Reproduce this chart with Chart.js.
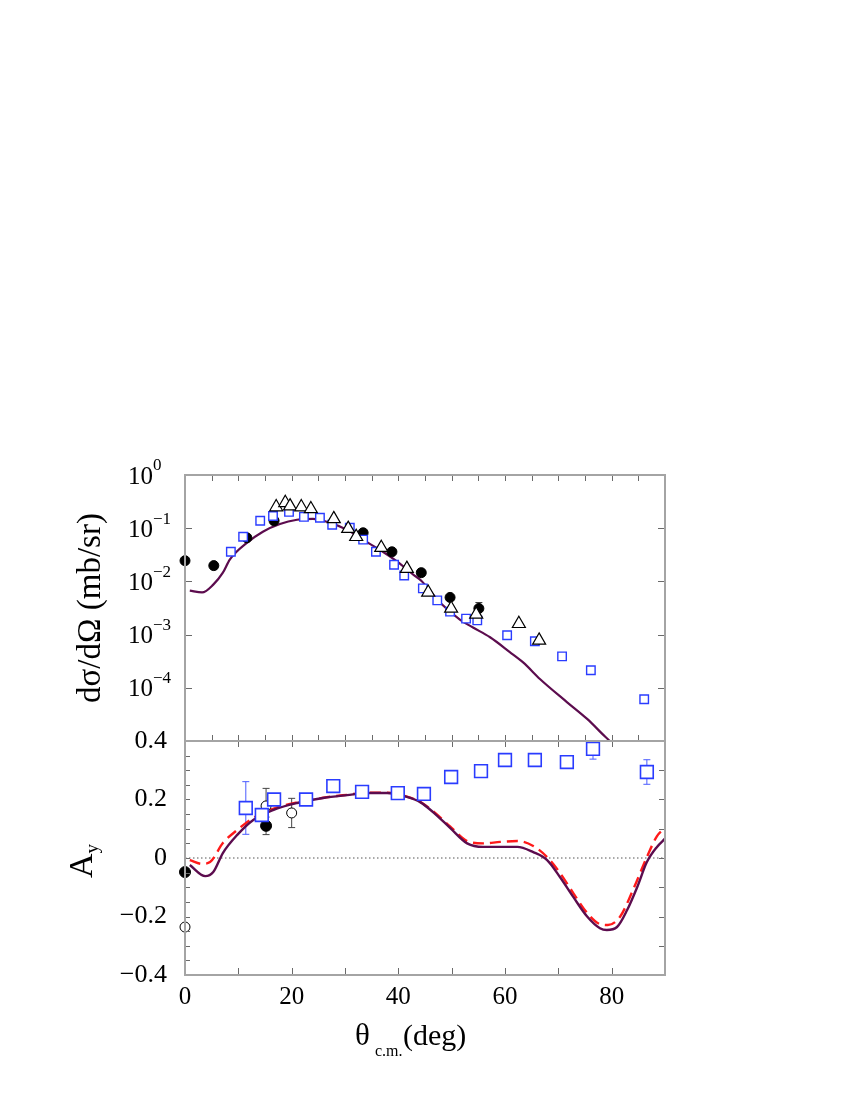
<!DOCTYPE html>
<html>
<head>
<meta charset="utf-8">
<title>Cross section and analyzing power</title>
<script src="https://cdn.jsdelivr.net/npm/chart.js@4.4.1/dist/chart.umd.min.js"></script>
<style>
  body { margin: 0; background: #ffffff; }
  #page { position: relative; width: 850px; height: 1100px; }
  #page canvas { position: absolute; left: 0; }
</style>
</head>
<body>
<div id="page">
  <canvas id="crossChart" width="850" height="361" style="top:400px"></canvas>
  <canvas id="asymChart" width="850" height="400" style="top:700px"></canvas>
</div>
<script>
// ---- top panel: dsigma/dOmega (mb/sr) ----
const calcTopX = [0.9, 3.2, 5.3, 7.1, 8.4, 11.6, 14.6, 17.8, 21, 24, 26.6, 30.4, 33.4, 36.6, 39.8, 42.8, 44.3, 47.8, 51.6, 54, 57.2, 60.9, 63.4, 66.6, 71.6, 75.4, 78.8, 82];
const calcTopY = [0.0067, 0.0062, 0.0087, 0.0146, 0.0257, 0.053, 0.086, 0.12, 0.144, 0.15, 0.132, 0.093, 0.06, 0.039, 0.0235, 0.0134, 0.0103, 0.004, 0.0019, 0.00136, 0.00089, 0.00047, 0.0003, 0.000145, 5.4e-5, 2.6e-5, 1.2e-5, 6e-6];

const squareTopX = [8.6, 10.9, 14.1, 16.5, 19.5, 22.3, 25.3, 27.6, 30.9, 33.4, 35.8, 39.2, 41.1, 44.6, 47.3, 49.7, 52.7, 54.8, 60.4, 65.6, 70.7, 76.1, 86.1];
const squareTopY = [0.036, 0.069, 0.138, 0.17, 0.203, 0.163, 0.157, 0.116, 0.102, 0.061, 0.036, 0.0206, 0.0129, 0.0074, 0.0044, 0.0027, 0.002, 0.00185, 0.00097, 0.00075, 0.00039, 0.000214, 6.1e-5];

const triangleX = [17.1, 18.8, 19.7, 21.8, 23.6, 27.9, 30.6, 32.1, 36.8, 41.6, 45.6, 49.9, 54.6, 62.6, 66.4];
const triangleY = [0.25, 0.30, 0.26, 0.25, 0.23, 0.15, 0.098, 0.069, 0.043, 0.0174, 0.0062, 0.0031, 0.0024, 0.0016, 0.00078];

const dotTopX = [0, 5.4, 11.6, 16.7, 33.4, 38.8, 44.3, 49.7, 55.1];
const dotTopY = [0.0245, 0.0198, 0.066, 0.138, 0.082, 0.036, 0.0146, 0.005, 0.0031];
const dotTopErr = [0, 0, 0, 0, 0, 0, 0, 0, 0.0009];

const logTicks = [1, 0.1, 0.01, 0.001, 0.0001];
const logExponents = ['0', '\u22121', '\u22122', '\u22123', '\u22124'];

// ---- bottom panel: A_y ----
const solidX = [0.9, 3.8, 5.3, 7.1, 9.8, 12.8, 16.5, 21, 25.9, 30.4, 34.1, 37.9, 41.6, 44.1, 46.5, 49.7, 52.9, 55.9, 59.1, 62.3, 65.3, 67.9, 70.3, 72.8, 75.4, 77.8, 79.1, 81, 82.9, 84.8, 86.6, 88.5, 90];
const solidY = [-0.024, -0.062, -0.048, 0.017, 0.079, 0.13, 0.164, 0.188, 0.205, 0.215, 0.222, 0.222, 0.209, 0.191, 0.157, 0.103, 0.05, 0.038, 0.038, 0.038, 0.02, -0.007, -0.065, -0.133, -0.2, -0.24, -0.246, -0.236, -0.178, -0.099, -0.014, 0.038, 0.066];

const dashX = [0.9, 3.2, 4.7, 7.1, 9.8, 12.8, 16.5, 21, 25.9, 30.4, 34.1, 37.9, 41.6, 44.1, 46.5, 49.7, 52.9, 55.9, 59.1, 62.3, 65.3, 67.9, 70.3, 72.8, 75.4, 77.8, 79.3, 81.6, 84, 86.6, 88.5, 90];
const dashY = [-0.007, -0.02, -0.014, 0.051, 0.096, 0.137, 0.168, 0.19, 0.206, 0.216, 0.223, 0.223, 0.21, 0.192, 0.16, 0.108, 0.058, 0.05, 0.055, 0.058, 0.041, 0.003, -0.051, -0.12, -0.188, -0.226, -0.229, -0.2, -0.109, 0.003, 0.075, 0.103];

const squareBotX = [11.4, 14.4, 16.7, 22.7, 27.8, 33.2, 39.9, 44.8, 49.9, 55.5, 60, 65.6, 71.6, 76.5, 86.6];
const squareBotY = [0.171, 0.147, 0.20, 0.20, 0.246, 0.226, 0.222, 0.219, 0.277, 0.297, 0.335, 0.335, 0.328, 0.373, 0.294];
const squareBotErr = [0.09, 0, 0, 0, 0, 0, 0, 0, 0, 0, 0, 0, 0, 0.035, 0.042];

const dotBotX = [0, 15.2];
const dotBotY = [-0.048, 0.11];
const dotBotErr = [0, 0.03];

const ringBotX = [0, 15.2, 20];
const ringBotY = [-0.236, 0.178, 0.154];
const ringBotErr = [0, 0.06, 0.05];

const xTickLabels = [0, 20, 40, 60, 80];
const ayTickLabels = [-0.4, -0.2, 0, 0.2, 0.4];

const PURPLE = '#5c0c4e';
const BLUE = '#2a3cff';
const SERIF = '"Liberation Serif", "DejaVu Serif", serif';

function pts(xs, ys) {
  return xs.map((x, i) => ({ x: x, y: ys[i] }));
}

function range(from, to, step) {
  const out = [];
  for (let v = from; v <= to + 1e-9; v += step) out.push(Math.round(v * 1000) / 1000);
  return out;
}

// frame, inward tick marks, error bars, dotted zero line
function makeFramePlugin(cfg) {
  return {
    id: 'frame',
    beforeDatasetsDraw(chart) {
      const { ctx, chartArea: a, scales } = chart;
      ctx.save();
      ctx.beginPath();
      ctx.rect(a.left, a.top, a.right - a.left, a.bottom - a.top);
      ctx.clip();

      if (cfg.zeroLine) {
        const y0 = scales.y.getPixelForValue(0);
        ctx.strokeStyle = '#555555';
        ctx.lineWidth = 1;
        ctx.setLineDash([1.5, 2.5]);
        ctx.beginPath();
        ctx.moveTo(a.left, y0);
        ctx.lineTo(a.right, y0);
        ctx.stroke();
        ctx.setLineDash([]);
      }

      cfg.errorBars.forEach(set => {
        ctx.strokeStyle = set.color;
        ctx.lineWidth = 1;
        set.x.forEach((xv, i) => {
          const e = set.err[i];
          if (!e) return;
          const px = scales.x.getPixelForValue(xv);
          const hi = scales.y.getPixelForValue(set.y[i] + e);
          const lo = scales.y.getPixelForValue(set.y[i] - e);
          ctx.beginPath();
          ctx.moveTo(px, hi); ctx.lineTo(px, lo);
          ctx.moveTo(px - 3.5, hi); ctx.lineTo(px + 3.5, hi);
          ctx.moveTo(px - 3.5, lo); ctx.lineTo(px + 3.5, lo);
          ctx.stroke();
        });
      });
      ctx.restore();
    },
    afterDatasetsDraw(chart) {
      const { ctx, chartArea: a, scales } = chart;
      ctx.save();
      ctx.strokeStyle = '#6a6a6a';
      ctx.lineWidth = 1;
      cfg.marks.forEach(m => {
        const sc = scales[m.axis];
        m.values.forEach(v => {
          const p = Math.round(sc.getPixelForValue(v)) + 0.5;
          ctx.beginPath();
          if (m.side === 'top') { ctx.moveTo(p, a.top); ctx.lineTo(p, a.top + m.len); }
          if (m.side === 'bottom') { ctx.moveTo(p, a.bottom); ctx.lineTo(p, a.bottom - m.len); }
          if (m.side === 'left') { ctx.moveTo(a.left, p); ctx.lineTo(a.left + m.len, p); }
          if (m.side === 'right') { ctx.moveTo(a.right, p); ctx.lineTo(a.right - m.len, p); }
          ctx.stroke();
        });
      });
      ctx.strokeStyle = '#a4a4a4';
      ctx.lineWidth = 2;
      ctx.strokeRect(a.left, a.top, a.right - a.left, a.bottom - a.top);
      ctx.restore();
    }
  };
}

const crossLabels = {
  id: 'crossLabels',
  afterDraw(chart) {
    const { ctx, scales } = chart;
    ctx.save();
    ctx.fillStyle = '#000000';
    logTicks.forEach((v, i) => {
      const y = scales.y.getPixelForValue(v);
      ctx.font = '25px ' + SERIF;
      ctx.textAlign = 'right';
      ctx.textBaseline = 'middle';
      ctx.fillText('10', 153, y + 2);
      ctx.font = '17px ' + SERIF;
      ctx.textAlign = 'left';
      ctx.fillText(logExponents[i], 153, y - 9);
    });
    ctx.translate(100, 208);
    ctx.rotate(-Math.PI / 2);
    ctx.font = '33px ' + SERIF;
    ctx.textAlign = 'center';
    ctx.textBaseline = 'alphabetic';
    ctx.fillText('d\u03c3/d\u03a9 (mb/sr)', 0, 0);
    ctx.restore();
  }
};

const asymLabels = {
  id: 'asymLabels',
  afterDraw(chart) {
    const { ctx } = chart;
    ctx.save();
    ctx.fillStyle = '#000000';
    ctx.textBaseline = 'alphabetic';
    ctx.textAlign = 'left';
    // x title
    const base = 345;
    ctx.font = '31px ' + SERIF;
    ctx.fillText('\u03b8', 355, base);
    ctx.font = '16px ' + SERIF;
    ctx.fillText('c.m.', 375, base + 11);
    ctx.font = '30px ' + SERIF;
    ctx.fillText('(deg)', 403, base);
    // y title
    ctx.translate(92, 178);
    ctx.rotate(-Math.PI / 2);
    ctx.font = '34px ' + SERIF;
    ctx.fillText('A', 0, 0);
    const w = ctx.measureText('A').width;
    ctx.font = '19px ' + SERIF;
    ctx.fillText('y', w, 6);
    ctx.restore();
  }
};

Chart.defaults.font.family = SERIF;
Chart.defaults.color = '#000000';

const every5 = range(5, 85, 5);
const every10 = range(10, 80, 10);

new Chart(document.getElementById('crossChart'), {
  type: 'scatter',
  data: {
    datasets: [
      {
        label: 'triangles', data: pts(triangleX, triangleY), order: 1, clip: false,
        pointStyle: 'triangle', pointRadius: 7.5, borderColor: '#000000',
        backgroundColor: '#ffffff', borderWidth: 1.2
      },
      {
        label: 'squares', data: pts(squareTopX, squareTopY), order: 2, clip: false,
        pointStyle: 'rect', pointRadius: 6, borderColor: BLUE,
        backgroundColor: '#ffffff', borderWidth: 1.4
      },
      {
        label: 'dots', data: pts(dotTopX, dotTopY), order: 3, clip: false,
        pointStyle: 'circle', pointRadius: 5, borderColor: '#000000',
        backgroundColor: '#000000', borderWidth: 1
      },
      {
        label: 'calc', data: pts(calcTopX, calcTopY), order: 4,
        showLine: true, pointRadius: 0, borderColor: PURPLE, borderWidth: 2.2,
        cubicInterpolationMode: 'monotone'
      }
    ]
  },
  options: {
    responsive: false,
    animation: false,
    events: [],
    layout: { padding: { top: 75, right: 185, bottom: 20, left: 0 } },
    plugins: { legend: { display: false }, tooltip: { enabled: false } },
    scales: {
      x: { type: 'linear', min: 0, max: 90, display: false },
      y: {
        type: 'logarithmic', min: 1e-5, max: 1,
        ticks: { display: false },
        grid: { display: false, drawTicks: false },
        border: { display: false },
        afterFit: (axis) => { axis.width = 185; }
      }
    }
  },
  plugins: [
    makeFramePlugin({
      zeroLine: false,
      errorBars: [{ x: dotTopX, y: dotTopY, err: dotTopErr, color: '#333333' }],
      marks: [
        { axis: 'x', side: 'top', values: every5, len: 6 },
        { axis: 'x', side: 'bottom', values: every5, len: 6 },
        { axis: 'y', side: 'left', values: logTicks.slice(1), len: 7 },
        { axis: 'y', side: 'right', values: logTicks.slice(1), len: 7 }
      ]
    }),
    crossLabels
  ]
});

new Chart(document.getElementById('asymChart'), {
  type: 'scatter',
  data: {
    datasets: [
      {
        label: 'squares', data: pts(squareBotX, squareBotY), order: 1, clip: false,
        pointStyle: 'rect', pointRadius: 9, borderColor: BLUE,
        backgroundColor: '#ffffff', borderWidth: 1.6
      },
      {
        label: 'rings', data: pts(ringBotX, ringBotY), order: 2, clip: false,
        pointStyle: 'circle', pointRadius: 5, borderColor: '#000000',
        backgroundColor: '#ffffff', borderWidth: 1
      },
      {
        label: 'dots', data: pts(dotBotX, dotBotY), order: 3, clip: false,
        pointStyle: 'circle', pointRadius: 5.5, borderColor: '#000000',
        backgroundColor: '#000000', borderWidth: 1
      },
      {
        label: 'dashed', data: pts(dashX, dashY), order: 5,
        showLine: true, pointRadius: 0, borderColor: '#ff1a1a', borderWidth: 2.4,
        borderDash: [11, 6], cubicInterpolationMode: 'monotone'
      },
      {
        label: 'solid', data: pts(solidX, solidY), order: 4,
        showLine: true, pointRadius: 0, borderColor: PURPLE, borderWidth: 2.4,
        cubicInterpolationMode: 'monotone'
      }
    ]
  },
  options: {
    responsive: false,
    animation: false,
    events: [],
    layout: { padding: { top: 41, right: 185, bottom: 0, left: 0 } },
    plugins: { legend: { display: false }, tooltip: { enabled: false } },
    scales: {
      x: {
        type: 'linear', min: 0, max: 90,
        grid: { display: false, drawTicks: false },
        border: { display: false },
        afterBuildTicks: (axis) => { axis.ticks = xTickLabels.map(v => ({ value: v })); },
        ticks: { font: { size: 25 }, padding: 7, maxRotation: 0 },
        afterFit: (axis) => { axis.height = 125; }
      },
      y: {
        type: 'linear', min: -0.4, max: 0.4,
        grid: { display: false, drawTicks: false },
        border: { display: false },
        afterBuildTicks: (axis) => { axis.ticks = ayTickLabels.map(v => ({ value: v })); },
        ticks: {
          font: { size: 26 }, padding: 18,
          callback: (v) => v === 0 ? '0' : (v < 0 ? '\u2212' : '') + Math.abs(v).toFixed(1)
        },
        afterFit: (axis) => { axis.width = 185; }
      }
    }
  },
  plugins: [
    makeFramePlugin({
      zeroLine: true,
      errorBars: [
        { x: squareBotX, y: squareBotY, err: squareBotErr, color: '#4a5cff' },
        { x: dotBotX, y: dotBotY, err: dotBotErr, color: '#444444' },
        { x: ringBotX, y: ringBotY, err: ringBotErr, color: '#444444' }
      ],
      marks: [
        { axis: 'x', side: 'top', values: every10, len: 6 },
        { axis: 'x', side: 'bottom', values: every10, len: 7 },
        { axis: 'y', side: 'left', values: range(-0.35, 0.35, 0.05), len: 5 },
        { axis: 'y', side: 'right', values: range(-0.3, 0.3, 0.1), len: 6 }
      ]
    }),
    asymLabels
  ]
});
</script>
</body>
</html>
